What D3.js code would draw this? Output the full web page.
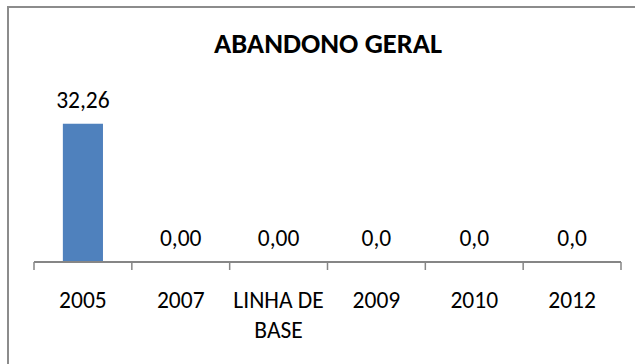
<!DOCTYPE html>
<html>
<head>
<meta charset="utf-8">
<script src="https://cdn.jsdelivr.net/npm/d3@7"></script>
<style>
  html, body { margin: 0; padding: 0; background: #fff; }
  svg { display: block; }
  text { font-family: Carlito, Lato, "Open Sans", sans-serif; fill: #000; }
</style>
</head>
<body>
<script>
// Dropout rates by reference year
const categories = ["2005", "2007", "LINHA DE|BASE", "2009", "2010", "2012"];
const values = [32.26, 0, 0, 0, 0, 0];
const valueLabels = ["32,26", "0,00", "0,00", "0,0", "0,0", "0,0"];
const chartTitle = "ABANDONO GERAL";

const W = 635, H = 364;
const svg = d3.select("body").append("svg").attr("width", W).attr("height", H);

// Chart-area frame (left and top edges)
svg.append("path")
  .attr("d", `M8,${H} V7 H${W}`)
  .attr("fill", "none")
  .attr("stroke", "#8c8c8c")
  .attr("stroke-width", 2);

const axisY = 262;
const gap = 0.59;
const x = d3.scaleBand().domain(categories).range([34, 621])
  .paddingInner(gap).paddingOuter(gap / 2);
const y = d3.scaleLinear().domain([0, 35]).range([axisY, 112]);

const labelSize = "23.5px";

// Title
svg.append("text")
  .attr("x", 328).attr("y", 53)
  .attr("text-anchor", "middle")
  .style("font-weight", "bold")
  .style("font-size", "28.5px")
  .text(chartTitle);

// Bars
svg.append("g").selectAll("rect")
  .data(categories)
  .join("rect")
  .attr("x", d => x(d))
  .attr("width", x.bandwidth())
  .attr("y", (d, i) => y(values[i]))
  .attr("height", (d, i) => y(0) - y(values[i]))
  .attr("fill", "#4f81bd");

// Value labels
svg.append("g").selectAll("text")
  .data(categories)
  .join("text")
  .attr("x", d => x(d) + x.bandwidth() / 2)
  .attr("y", (d, i) => y(values[i]) - 16)
  .attr("text-anchor", "middle")
  .style("font-size", labelSize)
  .text((d, i) => valueLabels[i]);

// Category axis: baseline with ticks on band boundaries
const axis = svg.append("g").attr("transform", `translate(0,${axisY})`);
axis.call(d3.axisBottom(x).tickSize(0).tickFormat(""))
  .call(g => g.select(".domain").attr("stroke", "#868686").attr("stroke-width", 2).attr("d", "M34,0H621"));
const half = (x.step() - x.bandwidth()) / 2;
const bounds = categories.map(c => x(c) - half).concat([x(categories[categories.length - 1]) + x.bandwidth() + half]);
axis.selectAll("line.bound")
  .data(bounds)
  .join("line")
  .attr("class", "bound")
  .attr("x1", d => d).attr("x2", d => d)
  .attr("y1", 0).attr("y2", 8)
  .attr("stroke", "#868686")
  .attr("stroke-width", 1.5);

const labels = svg.append("g").selectAll("text")
  .data(categories)
  .join("text")
  .attr("x", d => x(d) + x.bandwidth() / 2)
  .attr("y", 308)
  .attr("text-anchor", "middle")
  .style("font-size", labelSize);
labels.each(function(d) {
  const t = d3.select(this);
  d.split("|").forEach((line, k) => {
    t.append("tspan")
      .attr("x", x(d) + x.bandwidth() / 2)
      .attr("dy", k === 0 ? 0 : 29.5)
      .text(line);
  });
});
</script>
</body>
</html>
